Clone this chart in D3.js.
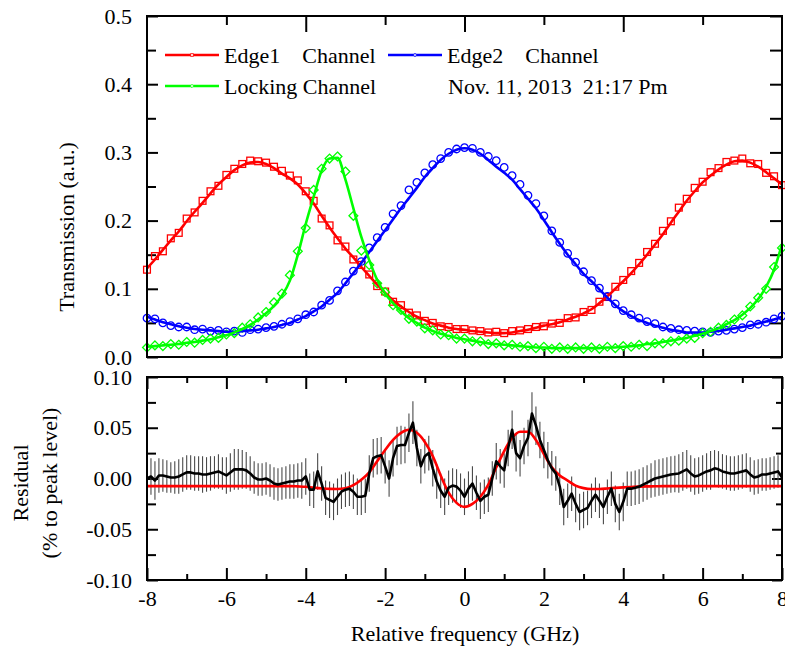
<!DOCTYPE html>
<html>
<head>
<meta charset="utf-8">
<script src="https://cdn.jsdelivr.net/npm/d3@7"></script>
<style>
body{margin:0;background:#fff}
text{font-family:"Liberation Serif","Times New Roman",serif;font-size:22px;fill:#000}
</style>
</head>
<body>
<div id="chart"></div>
<script>
// frequency grid of the scans (GHz)
var freq = [
  -8,-7.8,-7.6,-7.4,-7.2,-7,-6.8,-6.6,-6.4,-6.2,
  -6,-5.8,-5.6,-5.4,-5.2,-5,-4.8,-4.6,-4.4,-4.2,
  -4,-3.8,-3.6,-3.4,-3.2,-3,-2.8,-2.6,-2.4,-2.2,
  -2,-1.8,-1.6,-1.4,-1.2,-1,-0.8,-0.6,-0.4,-0.2,
  0,0.2,0.4,0.6,0.8,1,1.2,1.4,1.6,1.8,
  2,2.2,2.4,2.6,2.8,3,3.2,3.4,3.6,3.8,
  4,4.2,4.4,4.6,4.8,5,5.2,5.4,5.6,5.8,
  6,6.2,6.4,6.6,6.8,7,7.2,7.4,7.6,7.8,
  8];

// Edge1 channel: measured points and fit
var edge1Pts = [
  0.128,0.148,0.155,0.174,0.182,0.203,0.212,0.229,0.243,0.251,
  0.267,0.276,0.283,0.288,0.287,0.285,0.279,0.273,0.266,0.259,
  0.243,0.229,0.203,0.193,0.171,0.162,0.143,0.135,0.121,0.104,
  0.096,0.081,0.076,0.065,0.061,0.053,0.050,0.045,0.044,0.041,
  0.041,0.039,0.038,0.036,0.037,0.035,0.038,0.039,0.041,0.044,
  0.045,0.049,0.050,0.057,0.058,0.066,0.069,0.081,0.088,0.103,
  0.113,0.126,0.138,0.154,0.166,0.185,0.199,0.219,0.232,0.248,
  0.257,0.271,0.277,0.286,0.288,0.291,0.284,0.283,0.270,0.265,
  0.252];
var edge1Fit = [
  0.130,0.143,0.157,0.171,0.184,0.199,0.213,0.226,0.240,0.253,
  0.264,0.274,0.281,0.285,0.286,0.283,0.277,0.269,0.262,0.253,
  0.240,0.225,0.207,0.190,0.174,0.159,0.146,0.132,0.119,0.106,
  0.094,0.083,0.074,0.066,0.059,0.054,0.049,0.046,0.043,0.041,
  0.040,0.038,0.037,0.036,0.035,0.035,0.036,0.038,0.040,0.043,
  0.046,0.048,0.051,0.055,0.059,0.064,0.070,0.079,0.089,0.100,
  0.111,0.123,0.136,0.150,0.165,0.180,0.197,0.213,0.229,0.243,
  0.256,0.266,0.275,0.282,0.287,0.288,0.285,0.279,0.271,0.262,
  0.253];

// Edge2 channel
var edge2Pts = [
  0.057,0.056,0.050,0.046,0.044,0.044,0.040,0.041,0.038,0.039,
  0.037,0.038,0.036,0.040,0.041,0.043,0.045,0.048,0.052,0.056,
  0.062,0.066,0.076,0.083,0.097,0.110,0.126,0.140,0.160,0.175,
  0.190,0.210,0.222,0.245,0.256,0.270,0.282,0.291,0.300,0.305,
  0.307,0.306,0.300,0.294,0.288,0.278,0.266,0.253,0.237,0.225,
  0.207,0.185,0.168,0.152,0.139,0.125,0.112,0.101,0.089,0.078,
  0.068,0.062,0.057,0.052,0.049,0.044,0.042,0.040,0.039,0.038,
  0.037,0.036,0.038,0.039,0.041,0.043,0.047,0.048,0.051,0.056,
  0.060];
var edge2Fit = [
  0.059,0.055,0.051,0.048,0.045,0.043,0.041,0.040,0.039,0.038,
  0.037,0.037,0.038,0.039,0.040,0.042,0.044,0.047,0.050,0.055,
  0.060,0.067,0.074,0.084,0.094,0.108,0.123,0.138,0.154,0.170,
  0.186,0.202,0.218,0.233,0.248,0.264,0.277,0.289,0.298,0.304,
  0.306,0.304,0.298,0.289,0.279,0.270,0.260,0.246,0.232,0.218,
  0.201,0.183,0.166,0.150,0.136,0.122,0.111,0.099,0.087,0.076,
  0.067,0.060,0.054,0.050,0.046,0.043,0.040,0.038,0.036,0.036,
  0.036,0.037,0.038,0.040,0.042,0.044,0.046,0.049,0.052,0.055,
  0.059];

// Locking channel
var lockPts = [
  0.014,0.017,0.016,0.019,0.018,0.022,0.021,0.025,0.027,0.028,
  0.033,0.035,0.043,0.048,0.058,0.066,0.080,0.093,0.120,0.155,
  0.189,0.245,0.276,0.291,0.294,0.272,0.207,0.156,0.135,0.108,
  0.095,0.076,0.069,0.056,0.052,0.042,0.039,0.033,0.032,0.027,
  0.027,0.023,0.023,0.019,0.020,0.017,0.018,0.015,0.016,0.013,
  0.015,0.012,0.014,0.012,0.014,0.012,0.014,0.012,0.015,0.013,
  0.016,0.015,0.018,0.016,0.020,0.020,0.023,0.024,0.027,0.028,
  0.035,0.037,0.043,0.047,0.055,0.061,0.074,0.087,0.100,0.132,
  0.160];
var lockFit = [
  0.015,0.016,0.017,0.018,0.019,0.021,0.022,0.024,0.026,0.029,
  0.032,0.036,0.041,0.047,0.055,0.064,0.075,0.090,0.112,0.150,
  0.195,0.235,0.273,0.291,0.292,0.260,0.218,0.176,0.142,0.113,
  0.093,0.079,0.067,0.057,0.050,0.043,0.038,0.034,0.031,0.028,
  0.026,0.024,0.022,0.020,0.019,0.018,0.017,0.016,0.015,0.014,
  0.014,0.013,0.013,0.013,0.013,0.013,0.013,0.013,0.014,0.014,
  0.015,0.016,0.017,0.019,0.020,0.022,0.024,0.026,0.028,0.031,
  0.034,0.038,0.042,0.048,0.054,0.062,0.072,0.085,0.103,0.128,
  0.165];

// residual (finer grid) with error bars, and its fit on the coarse grid
var resFreq = [
  -8,-7.9,-7.8,-7.7,-7.6,-7.5,-7.4,-7.3,-7.2,-7.1,
  -7,-6.9,-6.8,-6.7,-6.6,-6.5,-6.4,-6.3,-6.2,-6.1,
  -6,-5.9,-5.8,-5.7,-5.6,-5.5,-5.4,-5.3,-5.2,-5.1,
  -5,-4.9,-4.8,-4.7,-4.6,-4.5,-4.4,-4.3,-4.2,-4.1,
  -4,-3.9,-3.8,-3.7,-3.6,-3.5,-3.4,-3.3,-3.2,-3.1,
  -3,-2.9,-2.8,-2.7,-2.6,-2.5,-2.4,-2.3,-2.2,-2.1,
  -2,-1.9,-1.8,-1.7,-1.6,-1.5,-1.4,-1.3,-1.2,-1.1,
  -1,-0.9,-0.8,-0.7,-0.6,-0.5,-0.4,-0.3,-0.2,-0.1,
  0,0.1,0.2,0.3,0.4,0.5,0.6,0.7,0.8,0.9,
  1,1.1,1.2,1.3,1.4,1.5,1.6,1.7,1.8,1.9,
  2,2.1,2.2,2.3,2.4,2.5,2.6,2.7,2.8,2.9,
  3,3.1,3.2,3.3,3.4,3.5,3.6,3.7,3.8,3.9,
  4,4.1,4.2,4.3,4.4,4.5,4.6,4.7,4.8,4.9,
  5,5.1,5.2,5.3,5.4,5.5,5.6,5.7,5.8,5.9,
  6,6.1,6.2,6.3,6.4,6.5,6.6,6.7,6.8,6.9,
  7,7.1,7.2,7.3,7.4,7.5,7.6,7.7,7.8,7.9,
  8];
var residual = [
  0.000,0.002,-0.002,0.003,0.003,0.002,0.001,0.001,0.002,0.004,
  0.006,0.006,0.005,0.005,0.004,0.004,0.005,0.006,0.007,0.005,
  0.003,0.006,0.009,0.009,0.009,0.008,0.005,0.001,-0.001,-0.001,
  0.000,-0.002,-0.005,-0.006,-0.005,-0.004,-0.003,-0.003,-0.002,-0.002,
  0.002,-0.011,-0.011,0.007,-0.005,-0.019,-0.021,-0.023,-0.018,-0.013,
  -0.011,-0.010,-0.013,-0.018,-0.018,-0.017,0.005,0.020,0.022,0.023,
  0.012,0.000,0.020,0.032,0.033,0.033,0.045,0.055,0.030,0.012,
  0.022,0.025,0.010,-0.003,-0.012,-0.018,-0.009,-0.007,-0.008,-0.012,
  -0.018,-0.010,-0.005,-0.014,-0.022,-0.018,-0.016,0.000,0.017,0.012,
  0.008,0.030,0.048,0.025,0.020,0.032,0.040,0.064,0.052,0.038,
  0.028,0.018,0.010,0.005,-0.008,-0.028,-0.022,-0.015,-0.025,-0.033,
  -0.031,-0.029,-0.022,-0.016,-0.022,-0.028,-0.018,-0.010,-0.025,-0.033,
  -0.023,-0.010,-0.010,-0.009,-0.008,-0.006,-0.004,-0.002,0.000,0.001,
  0.002,0.003,0.004,0.0045,0.005,0.007,0.009,0.005,0.002,0.003,
  0.005,0.007,0.008,0.010,0.009,0.007,0.006,0.005,0.005,0.006,
  0.007,0.008,0.004,0.001,0.002,0.004,0.004,0.005,0.006,0.007,
  0.001];
var resErr = [
  0.016,0.018,0.019,0.017,0.016,0.016,0.015,0.016,0.017,0.017,
  0.017,0.017,0.017,0.017,0.018,0.017,0.017,0.016,0.017,0.016,
  0.018,0.019,0.020,0.020,0.019,0.018,0.017,0.016,0.016,0.016,
  0.016,0.016,0.016,0.016,0.016,0.016,0.017,0.017,0.017,0.018,
  0.018,0.016,0.018,0.018,0.017,0.017,0.018,0.018,0.018,0.017,
  0.017,0.017,0.017,0.018,0.018,0.017,0.018,0.019,0.018,0.018,
  0.017,0.018,0.018,0.019,0.019,0.018,0.019,0.021,0.018,0.017,
  0.017,0.017,0.018,0.017,0.017,0.018,0.017,0.017,0.017,0.017,
  0.018,0.017,0.017,0.017,0.018,0.017,0.017,0.017,0.018,0.017,
  0.017,0.018,0.019,0.018,0.018,0.018,0.018,0.021,0.019,0.018,
  0.018,0.018,0.017,0.017,0.018,0.018,0.017,0.017,0.018,0.018,
  0.018,0.017,0.017,0.017,0.017,0.017,0.017,0.017,0.018,0.018,
  0.019,0.017,0.017,0.017,0.017,0.017,0.017,0.017,0.018,0.018,
  0.018,0.018,0.018,0.018,0.019,0.019,0.019,0.018,0.018,0.018,
  0.018,0.018,0.019,0.018,0.018,0.017,0.017,0.017,0.017,0.017,
  0.017,0.017,0.017,0.017,0.017,0.016,0.016,0.016,0.016,0.016,
  0.016];
var resFit = [
  -0.0075,-0.0075,-0.0075,-0.0075,-0.0075,-0.0075,-0.0075,-0.0075,-0.0075,-0.0075,
  -0.0075,-0.0075,-0.0075,-0.0075,-0.0075,-0.0075,-0.0075,-0.0075,-0.0075,-0.0078,
  -0.0082,-0.0090,-0.0097,-0.0102,-0.0103,-0.0096,-0.0065,-0.0012,0.0060,0.0170,
  0.0280,0.0380,0.0450,0.0480,0.0450,0.0360,0.0220,0.0030,-0.0140,-0.0240,
  -0.0280,-0.0250,-0.0180,-0.0060,0.0110,0.0270,0.0400,0.0460,0.0460,0.0380,
  0.0240,0.0110,0.0030,-0.0020,-0.0070,-0.0095,-0.0104,-0.0103,-0.0098,-0.0092,
  -0.0087,-0.0083,-0.0080,-0.0078,-0.0077,-0.0075,-0.0075,-0.0075,-0.0075,-0.0075,
  -0.0075,-0.0075,-0.0075,-0.0075,-0.0075,-0.0075,-0.0075,-0.0075,-0.0075,-0.0075,
  -0.0075];

// tick values
var xMajor = [-8,-6,-4,-2,0,2,4,6,8];
var xMinor = [-7,-5,-3,-1,1,3,5,7];
var topMajor = [0,0.1,0.2,0.3,0.4,0.5];
var topMinor = [0.05,0.15,0.25,0.35,0.45];
var botMajor = [-0.1,-0.05,0,0.05,0.1];
var botMinor = [-0.075,-0.025,0.025,0.075];

var W = 785, H = 651;
var svg = d3.select("#chart").append("svg")
    .attr("width", W).attr("height", H);

var x = d3.scaleLinear().domain([-8, 8]).range([147, 782]);
var yTop = d3.scaleLinear().domain([0, 0.5]).range([357, 16]);
var yBot = d3.scaleLinear().domain([-0.1, 0.1]).range([580, 377]);

function hyphen(fmt){ return function(d){ return d3.format(fmt)(d).replace("\u2212", "-"); }; }

// draws an axis with ticks pointing into the frame
function axis(gen, tx, ty){
  var g = svg.append("g").attr("transform", "translate(" + tx + "," + ty + ")").call(gen);
  g.select(".domain").remove();
  g.selectAll(".tick line").attr("stroke", "#000").attr("stroke-width", 2);
  g.selectAll("text").attr("font-size", null).attr("font-family", null).attr("fill", "#000");
  g.attr("font-size", null).attr("font-family", null);
  return g;
}

// ---- top panel ticks ----
axis(d3.axisLeft(yTop).tickValues(topMajor).tickSize(-11).tickPadding(15).tickFormat(d3.format(".1f")), 147, 0);
axis(d3.axisLeft(yTop).tickValues(topMinor).tickSize(-9).tickFormat(""), 147, 0);
axis(d3.axisRight(yTop).tickValues(topMajor.concat(topMinor)).tickSize(-12).tickFormat(""), 782, 0);
axis(d3.axisBottom(x).tickValues([-6,-4,-2,0,2,4,6]).tickSize(-8).tickFormat(""), 0, 357);
axis(d3.axisTop(x).tickValues([-4,0,4]).tickSize(-16).tickFormat(""), 0, 16);
axis(d3.axisTop(x).tickValues([-6,-2,2,6]).tickSize(-9).tickFormat(""), 0, 16);

// ---- bottom panel ticks ----
axis(d3.axisLeft(yBot).tickValues(botMajor).tickSize(-11).tickPadding(15).tickFormat(hyphen(".2f")), 147, 0);
axis(d3.axisLeft(yBot).tickValues(botMinor).tickSize(-9).tickFormat(""), 147, 0);
axis(d3.axisRight(yBot).tickValues(botMajor).tickSize(-10).tickFormat(""), 782, 0);
axis(d3.axisRight(yBot).tickValues(botMinor).tickSize(-6).tickFormat(""), 782, 0);
axis(d3.axisTop(x).tickValues(xMajor).tickSize(-12).tickFormat(""), 0, 377);
axis(d3.axisTop(x).tickValues(xMinor).tickSize(-6).tickFormat(""), 0, 377);
axis(d3.axisBottom(x).tickValues(xMajor).tickSize(-12).tickPadding(10).tickFormat(hyphen("d")), 0, 580);
axis(d3.axisBottom(x).tickValues(xMinor).tickSize(-6).tickFormat(""), 0, 580);

// ---- top panel data ----
var plotTop = svg.append("g");
var series = [
  {pts: edge1Pts, fit: edge1Fit, color: "#ff0000", shape: "square"},
  {pts: edge2Pts, fit: edge2Fit, color: "#0000ff", shape: "circle"},
  {pts: lockPts, fit: lockFit, color: "#00ff00", shape: "diamond"}
];

function marker(sel, shape, s){
  if(shape === "circle") return sel.append("circle").attr("r", s * 0.55);
  if(shape === "square") return sel.append("rect").attr("x", -s/2).attr("y", -s/2).attr("width", s).attr("height", s);
  var h = s * 0.65;
  return sel.append("path").attr("d", "M0," + (-h) + "L" + h + ",0L0," + h + "L" + (-h) + ",0Z");
}

series.forEach(function(s){
  var pts = plotTop.append("g").selectAll("g")
    .data(freq.map(function(f, i){ return [f, s.pts[i]]; }))
    .enter().append("g")
    .attr("transform", function(d){ return "translate(" + x(d[0]) + "," + yTop(d[1]) + ")"; });
  marker(pts, s.shape, 6.8)
    .attr("fill", "none").attr("stroke", s.color).attr("stroke-width", 1.3);
});

var fitLine = d3.line()
  .x(function(d){ return x(d[0]); })
  .y(function(d){ return yTop(d[1]); })
  .curve(d3.curveMonotoneX);

series.forEach(function(s){
  plotTop.append("path")
    .datum(freq.map(function(f, i){ return [f, s.fit[i]]; }))
    .attr("d", fitLine)
    .attr("fill", "none").attr("stroke", s.color).attr("stroke-width", 2.6);
});

// ---- legend ----
var legendItems = [
  {label: "Edge1    Channel", color: "#ff0000", shape: "square", x: 165, y: 55},
  {label: "Edge2    Channel", color: "#0000ff", shape: "circle", x: 388, y: 55},
  {label: "Locking Channel", color: "#00ff00", shape: "diamond", x: 165, y: 86}
];
legendItems.forEach(function(l){
  var g = svg.append("g").attr("transform", "translate(" + l.x + "," + l.y + ")");
  g.append("line").attr("x1", 0).attr("x2", 54).attr("y1", 0).attr("y2", 0)
    .attr("stroke", l.color).attr("stroke-width", 2.6);
  var m = g.append("g").attr("transform", "translate(27,0)");
  marker(m, l.shape, 2.6).attr("fill", "#fff").attr("stroke", l.color).attr("stroke-width", 0.8);
  g.append("text").attr("x", 59).attr("y", 7.5)
    .style("white-space", "pre").text(l.label);
});
svg.append("text").attr("x", 448).attr("y", 93.5)
  .style("white-space", "pre").text("Nov. 11, 2013  21:17 Pm");

// ---- bottom panel data ----
var plotBot = svg.append("g");
plotBot.selectAll("line.err")
  .data(resFreq.map(function(f, i){ return [f, residual[i], resErr[i]]; }))
  .enter().append("line")
  .attr("class", "err")
  .attr("x1", function(d){ return x(d[0]); })
  .attr("x2", function(d){ return x(d[0]); })
  .attr("y1", function(d){ return yBot(d[1] - d[2]); })
  .attr("y2", function(d){ return yBot(d[1] + d[2]); })
  .attr("stroke", "#4a4a4a").attr("stroke-width", 1.1);

plotBot.append("path")
  .datum(freq.map(function(f, i){ return [f, resFit[i]]; }))
  .attr("d", d3.line().x(function(d){ return x(d[0]); }).y(function(d){ return yBot(d[1]); }).curve(d3.curveMonotoneX))
  .attr("fill", "none").attr("stroke", "#ff0000").attr("stroke-width", 2.6);

plotBot.append("path")
  .datum(resFreq.map(function(f, i){ return [f, residual[i]]; }))
  .attr("d", d3.line().x(function(d){ return x(d[0]); }).y(function(d){ return yBot(d[1]); }))
  .attr("fill", "none").attr("stroke", "#000").attr("stroke-width", 2.6)
  .attr("stroke-linejoin", "round");

// ---- frames ----
svg.append("rect").attr("x", 147).attr("y", 16).attr("width", 635).attr("height", 341)
  .attr("fill", "none").attr("stroke", "#000").attr("stroke-width", 2);
svg.append("rect").attr("x", 147).attr("y", 377).attr("width", 635).attr("height", 203)
  .attr("fill", "none").attr("stroke", "#000").attr("stroke-width", 2);

// ---- axis titles ----
svg.append("text").attr("transform", "translate(74,227) rotate(-90)")
  .attr("text-anchor", "middle").text("Transmission (a.u.)");
svg.append("text").attr("transform", "translate(28,483) rotate(-90)")
  .attr("text-anchor", "middle").text("Residual");
svg.append("text").attr("transform", "translate(57,483) rotate(-90)")
  .attr("text-anchor", "middle").text("(% to peak level)");
svg.append("text").attr("x", 465).attr("y", 641)
  .attr("text-anchor", "middle").text("Relative frequency (GHz)");
</script>
</body>
</html>
